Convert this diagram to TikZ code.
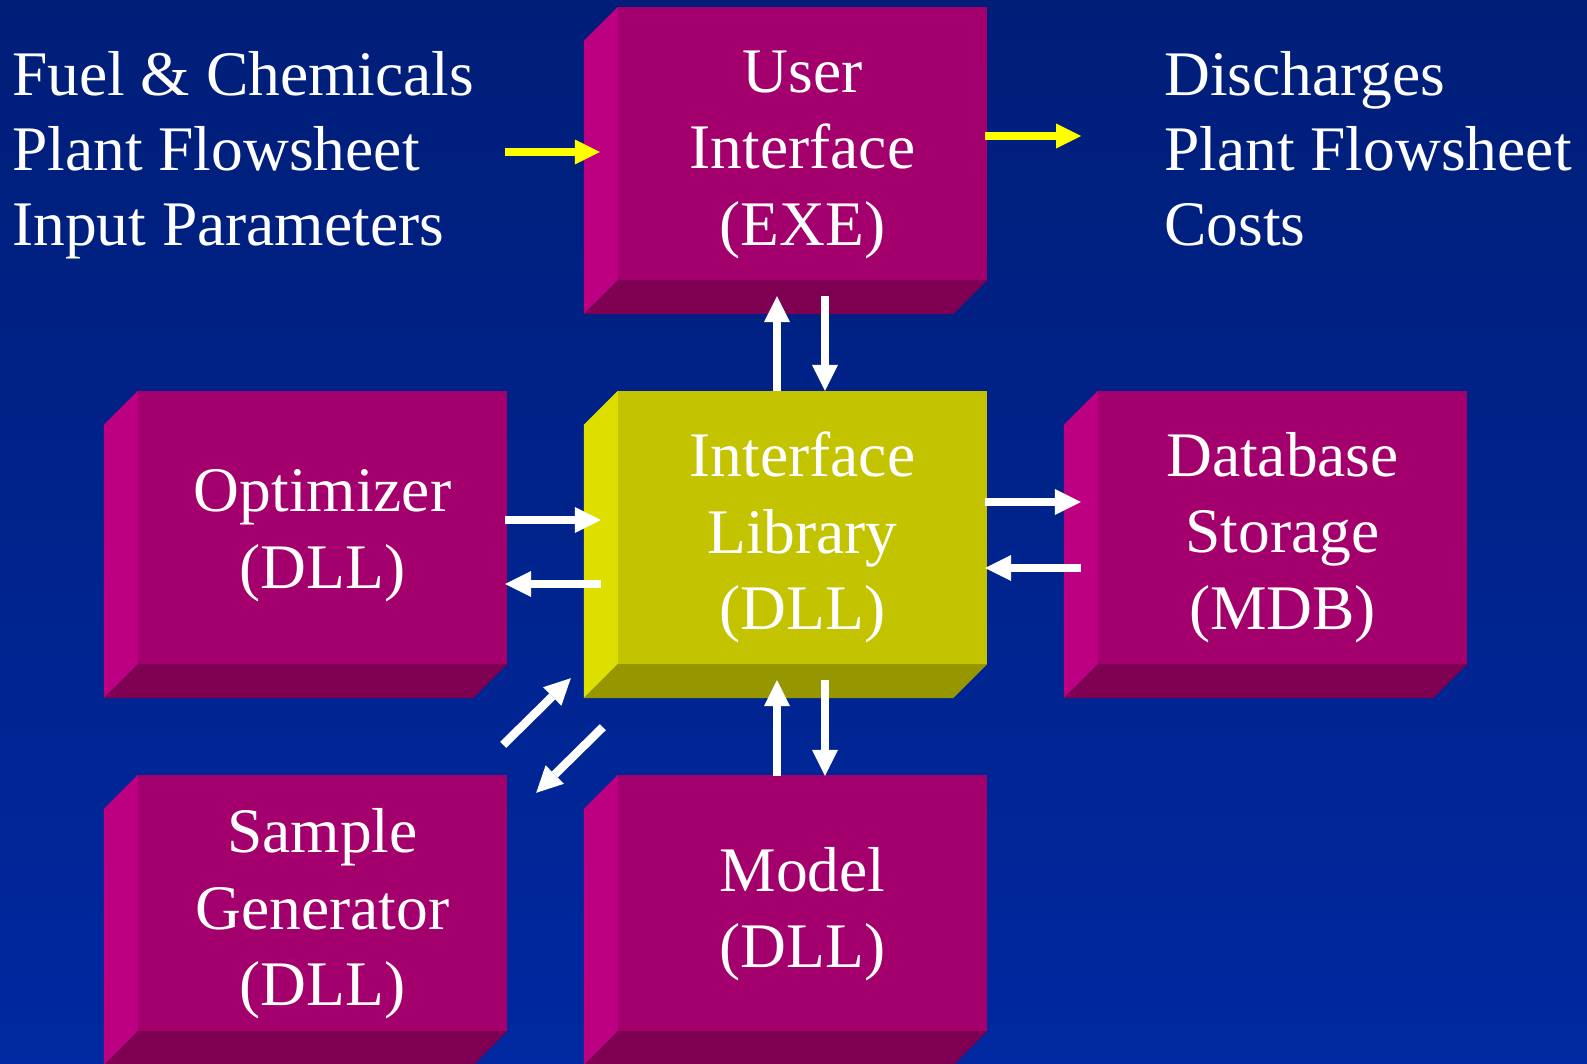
\documentclass[tikz,border=0pt]{standalone}
\usepackage{fontspec}
\setmainfont{Liberation Serif}
\usetikzlibrary{arrows.meta,calc}
\definecolor{bgtop}{HTML}{001E78}
\definecolor{bgbot}{HTML}{0028A0}
\definecolor{mfront}{HTML}{A3006D}
\definecolor{mleft}{HTML}{BD0081}
\definecolor{mbottom}{HTML}{7F0052}
\definecolor{yfront}{HTML}{C3C300}
\definecolor{yleft}{HTML}{DEDE00}
\definecolor{ybottom}{HTML}{969600}
\definecolor{arrowyellow}{HTML}{FFFF00}
\newcommand{\drawbevel}[3]{%
  \fill[#2] (#1.north west) -- (#1.south west) -- ++(-34,34) -- ($(#1.north west)+(-34,34)$) -- cycle;
  \fill[#3] (#1.south west) -- (#1.south east) -- ++(-34,34) -- ($(#1.south west)+(-34,34)$) -- cycle;
}
\tikzset{
  box/.style={rectangle, inner sep=0pt, minimum width=369pt, minimum height=273pt},
  mbox/.style={box, fill=mfront},
  ybox/.style={box, fill=yfront},
  lbl/.style={text=white, align=center, inner sep=0pt, font=\fontsize{63.5}{76.5}\selectfont},
  side/.style={text=white, align=left, inner sep=0pt, anchor=west, font=\fontsize{63.5}{75}\selectfont},
  warr/.style={white, line width=8.5pt, -{Triangle[length=26pt,width=26pt,line width=0pt]}},
  yarr/.style={arrowyellow, line width=8.7pt, -{Triangle[length=25pt,width=25pt,line width=0pt]}}
}
\begin{document}
\begin{tikzpicture}[x=1pt,y=-1pt]
\useasboundingbox (0,0) rectangle (1587,1063);
\shade[top color=bgtop, bottom color=bgbot] (0,0) rectangle (1587,1063);

% boxes (front faces)
\node[mbox] (ui) at (802.5,143.5) {};
\node[ybox] (lib) at (802.5,527.5) {};
\node[mbox] (opt) at (322.5,527.5) {};
\node[mbox] (db) at (1282.5,527.5) {};
\node[mbox, minimum height=256pt] (sg) at (322.5,903) {};
\node[mbox, minimum height=256pt] (model) at (802.5,903) {};

\drawbevel{ui}{mleft}{mbottom}
\drawbevel{lib}{yleft}{ybottom}
\drawbevel{opt}{mleft}{mbottom}
\drawbevel{db}{mleft}{mbottom}
\drawbevel{sg}{mleft}{mbottom}
\drawbevel{model}{mleft}{mbottom}

% labels
\node[lbl] (uiT) at ($(ui.center)+(0,11)$) {User\\Interface\\(EXE)};
\node[lbl] (libT) at ($(lib.center)+(0,10)$) {Interface\\Library\\(DLL)};
\node[lbl] (optT) at ($(opt.center)+(0,8)$) {Optimizer\\(DLL)};
\node[lbl] (dbT) at ($(db.center)+(0,10)$) {Database\\Storage\\(MDB)};
\node[lbl] (sgT) at ($(sg.center)+(0,11)$) {Sample\\Generator\\(DLL)};
\node[lbl] (modelT) at ($(model.center)+(0,11)$) {Model\\(DLL)};

\node[side] (inT) at (12,155.2) {Fuel \& Chemicals\\Plant Flowsheet\\Input Parameters};
\node[side] (outT) at (1164,148.3) {Discharges\\Plant Flowsheet\\Costs};

% free ends
\coordinate (src) at (505,152);
\coordinate (dst) at (1081,136);

% yellow arrows
\draw[yarr] (src) -- ($(ui.west)+(-18,8.5)$);
\draw[yarr] ($(ui.east)+(-2,-7.5)$) -- (dst);

% UI <-> Library
\draw[warr] ($(lib.north)+(-25.5,0)$) -- ($(ui.south)+(-25.5,16)$);
\draw[warr] ($(ui.south)+(22.5,16)$) -- ($(lib.north)+(22.5,0)$);

% Library <-> Model
\draw[warr] ($(model.north)+(-25.5,1)$) -- ($(lib.south)+(-25.5,16)$);
\draw[warr] ($(lib.south)+(22.5,16)$) -- ($(model.north)+(22.5,1)$);

% Optimizer <-> Library
\draw[warr] ($(opt.east)+(-2,-7.5)$) -- ($(lib.west)+(-17,-7.5)$);
\draw[warr] ($(lib.west)+(-17,56.5)$) -- ($(opt.east)+(-2,56.5)$);

% Library <-> Database
\draw[warr] ($(lib.east)+(-2,-25.5)$) -- ($(db.west)+(-17,-25.5)$);
\draw[warr] ($(db.west)+(-17,40.5)$) -- ($(lib.east)+(-2,40.5)$);

% Sample Generator <-> Library
\draw[warr] ($(sg.north east)+(-4,-30)$) -- ($(lib.south west)+(-47,14)$);
\draw[warr] ($(lib.south west)+(-15,63)$) -- ($(sg.north east)+(29,18)$);
\end{tikzpicture}
\end{document}
